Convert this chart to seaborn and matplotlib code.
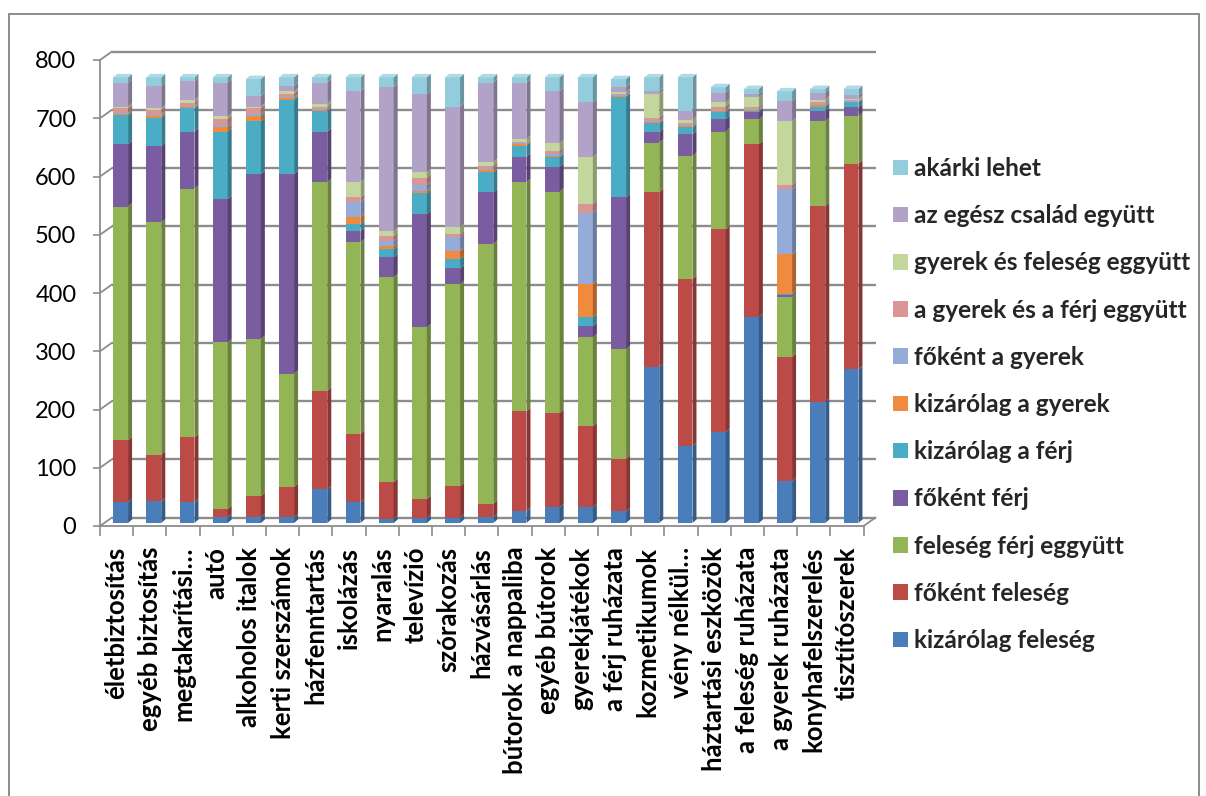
import numpy as np
import pandas as pd
import matplotlib
matplotlib.use("Agg")
import matplotlib.pyplot as plt
import matplotlib.colors as mcolors
from matplotlib.patches import Patch, Polygon, Rectangle
from matplotlib.lines import Line2D
from matplotlib.transforms import ScaledTranslation
import seaborn as sns

# --- data -----------------------------------------------------------------
categories = [
    "életbiztosítás", "egyéb biztosítás", "megtakarítási…", "autó",
    "alkoholos italok", "kerti szerszámok", "házfenntartás", "iskolázás",
    "nyaralás", "televízió", "szórakozás", "házvásárlás",
    "bútorok a nappaliba", "egyéb bútorok", "gyerekjátékok",
    "a férj ruházata", "kozmetikumok", "vény nélkül…",
    "háztartási eszközök", "a feleség ruházata", "a gyerek ruházata",
    "konyhafelszerelés", "tisztítószerek",
]

kizarolag_feleseg = [36, 37, 36, 10, 10, 10, 58, 36, 7, 9, 9, 10, 20, 27, 27, 20, 268, 132, 156, 353, 72, 208, 264]
fokent_feleseg = [106, 80, 111, 14, 36, 52, 169, 117, 63, 32, 54, 23, 172, 162, 139, 90, 300, 287, 348, 297, 213, 336, 353]
feleseg_ferj_egyutt = [401, 399, 427, 286, 270, 194, 358, 329, 352, 295, 347, 446, 393, 380, 153, 188, 85, 211, 168, 43, 103, 146, 81]
fokent_ferj = [107, 131, 98, 246, 283, 343, 87, 19, 34, 194, 27, 89, 44, 43, 19, 261, 18, 37, 21, 12, 3, 17, 16]
kizarolag_ferj = [50, 49, 40, 116, 91, 128, 35, 12, 14, 36, 16, 34, 19, 16, 15, 173, 15, 12, 12, 2, 2, 8, 8]
kizarolag_gyerek = [2, 3, 2, 7, 8, 2, 2, 12, 5, 4, 14, 4, 2, 2, 57, 1, 2, 2, 2, 2, 68, 2, 1]
fokent_gyerek = [2, 2, 2, 5, 4, 2, 2, 26, 9, 10, 24, 2, 2, 4, 123, 1, 2, 2, 2, 2, 112, 2, 1]
gyerek_ferj_egyutt = [8, 8, 5, 9, 10, 6, 4, 8, 8, 13, 5, 5, 2, 5, 14, 3, 6, 3, 6, 4, 7, 3, 2]
gyerek_feleseg_egyutt = [3, 3, 5, 5, 3, 4, 5, 26, 9, 9, 12, 6, 5, 13, 81, 3, 40, 6, 7, 16, 110, 5, 2]
egesz_csalad = [40, 38, 32, 58, 18, 9, 36, 156, 247, 134, 207, 137, 97, 89, 94, 8, 5, 15, 17, 5, 34, 12, 6]
akarki = [10, 15, 7, 9, 29, 15, 9, 24, 17, 29, 50, 9, 9, 24, 43, 14, 24, 58, 9, 9, 17, 6, 11]

# legend order (top of the stack first)
series_names = [
    "akárki lehet", "az egész család együtt", "gyerek és feleség eggyütt",
    "a gyerek és a férj eggyütt", "főként a gyerek", "kizárólag a gyerek",
    "kizárólag a férj", "főként férj", "feleség férj eggyütt",
    "főként feleség", "kizárólag feleség",
]
series_values = [
    akarki, egesz_csalad, gyerek_feleseg_egyutt, gyerek_ferj_egyutt,
    fokent_gyerek, kizarolag_gyerek, kizarolag_ferj, fokent_ferj,
    feleseg_ferj_egyutt, fokent_feleseg, kizarolag_feleseg,
]
series_colors = [
    "#93CDDD", "#B3A2C7", "#C3D69B", "#D99694", "#95ABD8", "#F08A3E",
    "#4BACC6", "#7A5CA0", "#93B555", "#BC4B48", "#4A7EBB",
]
y_ticks = [0, 100, 200, 300, 400, 500, 600, 700, 800]

# --- long-form table ---------------------------------------------------------
rows = []
for name, vals in zip(series_names, series_values):
    for cat, v in zip(categories, vals):
        rows.append({"kategória": cat, "válasz": name, "érték": v})
df = pd.DataFrame(rows)
df["kategória"] = pd.Categorical(df["kategória"], categories=categories, ordered=True)
df["válasz"] = pd.Categorical(df["válasz"], categories=series_names, ordered=True)

# --- figure ------------------------------------------------------------------
W, H, DPI = 1206, 796, 100
sns.set_theme(style="white")
plt.rcParams["font.family"] = ["Lato", "DejaVu Sans"]

fig = plt.figure(figsize=(W / DPI, H / DPI), dpi=DPI)
fig.patch.set_facecolor("white")

n = len(categories)
ax_left, ax_right = 100, 100 + n * 33.2
ax_top, ax_bottom = 60, 526
ax = fig.add_axes([ax_left / W, 1 - ax_bottom / H,
                   (ax_right - ax_left) / W, (ax_bottom - ax_top) / H])
ax.set_facecolor("white")

palette = dict(zip(series_names, series_colors))
sns.histplot(
    data=df, x="kategória", weights="érték", hue="válasz",
    hue_order=series_names, palette=palette, multiple="stack",
    discrete=True, shrink=0.45, element="bars", linewidth=0,
    alpha=1.0, legend=False, ax=ax,
)

ax.set_xlim(-0.5, n - 0.5)
ax.set_ylim(0, 800)

# pixel -> data conversions
px_x = (ax_right - ax_left) / n
px_y = (ax_bottom - ax_top) / 800.0

# bars sit half way into the depth of the 3-D box
bar_shift = ScaledTranslation(4 / DPI, 3 / DPI, fig.dpi_scale_trans)
side_dx, side_dy = 4 / px_x, 3.5 / px_y

bars = [p for p in ax.patches if isinstance(p, Rectangle) and p.get_width() > 0]
tops = {}
for p in bars:
    x0, y0 = p.get_x(), p.get_y()
    w, h = p.get_width(), p.get_height()
    fc = p.get_facecolor()
    p.set_transform(ax.transData + bar_shift)
    p.set_zorder(3)
    dark = tuple(np.array(mcolors.to_rgb(fc)) * 0.72)
    side = Polygon(
        [(x0 + w, y0), (x0 + w + side_dx, y0 + side_dy),
         (x0 + w + side_dx, y0 + h + side_dy), (x0 + w, y0 + h)],
        closed=True, facecolor=dark, edgecolor="none",
        transform=ax.transData + bar_shift, zorder=3, clip_on=False,
    )
    ax.add_patch(side)
    key = round(x0 + w / 2, 3)
    if key not in tops or y0 + h > tops[key][1]:
        tops[key] = (x0, y0 + h, w, fc)

for key, (x0, yt, w, fc) in tops.items():
    light = tuple(1 - (1 - np.array(mcolors.to_rgb(fc))) * 0.75)
    top = Polygon(
        [(x0, yt), (x0 + w, yt), (x0 + w + side_dx, yt + side_dy),
         (x0 + side_dx, yt + side_dy)],
        closed=True, facecolor=light, edgecolor="none",
        transform=ax.transData + bar_shift, zorder=3, clip_on=False,
    )
    ax.add_patch(top)

# back-wall gridlines with slanted side-wall segments
grid_color = "#8C8C8C"
back_dx, back_dy = 12 / px_x, 8.5 / px_y
for v in y_ticks:
    ax.plot([-0.5 + back_dx, n - 0.5 + back_dx], [v + back_dy, v + back_dy],
            color=grid_color, lw=1.7, zorder=1, clip_on=False,
            solid_capstyle="butt")
    ax.plot([-0.5, -0.5 + back_dx], [v, v + back_dy],
            color=grid_color, lw=1.3, zorder=1, clip_on=False)
# right edge of the floor
ax.plot([n - 0.5, n - 0.5 + back_dx], [0, back_dy],
        color=grid_color, lw=1.3, zorder=1, clip_on=False)

# axes, ticks and labels
for s in ["top", "right"]:
    ax.spines[s].set_visible(False)
for s in ["left", "bottom"]:
    ax.spines[s].set_color(grid_color)
    ax.spines[s].set_linewidth(1.3)

ax.set_yticks(y_ticks)
ax.set_yticklabels([str(t) for t in y_ticks])
ax.tick_params(axis="y", direction="out", length=5, width=1.2,
               color=grid_color, labelsize=17, labelcolor="black", pad=12,
               left=True)

ax.set_xticks(np.arange(n))
ax.set_xticklabels(categories, rotation=90, fontsize=18.5, fontweight="bold",
                   va="top", ha="center")
ax.set_xticks(np.arange(n + 1) - 0.5, minor=True)
ax.tick_params(axis="x", which="major", length=0, pad=15, labelcolor="black")
ax.tick_params(axis="x", which="minor", direction="out", length=7,
               width=1.2, color=grid_color, bottom=True)
ax.set_xlabel("")
ax.set_ylabel("")
ax.grid(False)

# legend
handles = [Patch(facecolor=c, edgecolor="none") for c in series_colors]
fs = 17.6
fs_px = fs * DPI / 72
leg = fig.legend(
    handles, series_names, loc="upper left",
    bbox_to_anchor=(893 / W, 1 - 157 / H), bbox_transform=fig.transFigure,
    frameon=False, prop={"weight": "bold", "size": fs},
    handlelength=15 / fs_px, handleheight=15 / fs_px,
    handletextpad=6 / fs_px, labelspacing=0.99, borderpad=0,
    borderaxespad=0,
)

# chart-area frame
frame_kw = dict(color="#8C8C8C", lw=1.4, transform=fig.transFigure)
fig.add_artist(Line2D([9 / W, 9 / W], [0, 1 - 14 / H], **frame_kw))
fig.add_artist(Line2D([9 / W, 1199 / W], [1 - 14 / H, 1 - 14 / H], **frame_kw))
fig.add_artist(Line2D([1199 / W, 1199 / W], [0, 1 - 14 / H], **frame_kw))

fig.savefig("out.png", dpi=DPI, facecolor="white")
